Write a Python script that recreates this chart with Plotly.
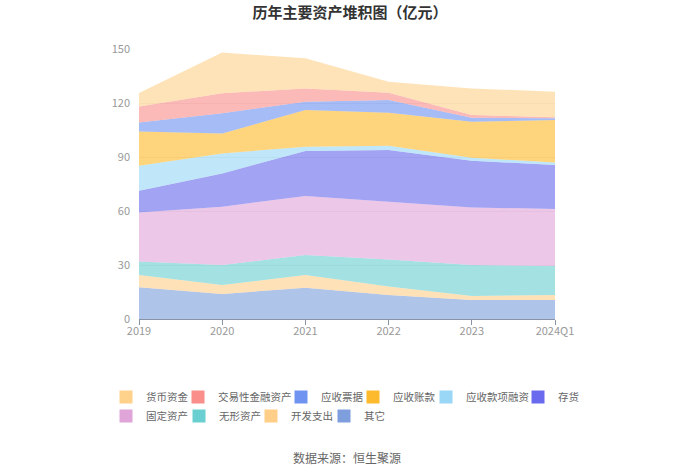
import plotly.graph_objects as go

years = ["2019", "2020", "2021", "2022", "2023", "2024Q1"]

# bottom -> top stacking order
other = [17.6, 13.9, 17.4, 13.3, 10.6, 10.6]          # 其它
dev_exp = [6.8, 5.0, 7.0, 4.7, 2.2, 2.7]              # 开发支出
intangible = [7.5, 11.1, 11.2, 15.1, 17.2, 16.1]      # 无形资产
fixed = [27.2, 32.4, 32.7, 32.1, 32.0, 31.7]          # 固定资产
inventory = [12.1, 18.5, 25.0, 28.7, 25.9, 24.5]      # 存货
recv_fin = [13.9, 11.1, 2.4, 2.4, 1.7, 1.3]           # 应收款项融资
accounts_recv = [19.1, 11.1, 20.4, 18.3, 20.0, 23.7]  # 应收账款
notes_recv = [5.0, 11.2, 4.6, 7.1, 2.2, 0.9]          # 应收票据
trading_fin = [8.9, 11.1, 7.4, 4.0, 1.5, 0.6]         # 交易性金融资产
cash = [7.4, 22.6, 16.7, 6.1, 14.8, 14.2]             # 货币资金

# name, values, colour, legend text left (px), legend row centre (px)
series = [
    ("其它", other, (126, 159, 219), 364, 416),
    ("开发支出", dev_exp, (255, 207, 138), 291, 416),
    ("无形资产", intangible, (106, 207, 208), 219, 416),
    ("固定资产", fixed, (224, 165, 216), 146, 416),
    ("存货", inventory, (106, 106, 238), 558, 397),
    ("应收款项融资", recv_fin, (154, 214, 245), 466, 397),
    ("应收账款", accounts_recv, (253, 186, 44), 393, 397),
    ("应收票据", notes_recv, (110, 147, 240), 321, 397),
    ("交易性金融资产", trading_fin, (249, 142, 138), 218, 397),
    ("货币资金", cash, (255, 210, 140), 146, 397),
]

FONT = "Noto Sans CJK SC, Noto Sans, sans-serif"
PL, PT, PW, PH = 139, 49, 416, 270
TEXT_OFFSET = 40

fig = go.Figure()
legends = {}
for i, (name, vals, rgb, tx, ty) in enumerate(series):
    r, g, b = rgb
    lg = "legend" if i == 0 else f"legend{i + 1}"
    fig.add_trace(go.Scatter(
        x=years, y=vals, name=name, mode="lines",
        stackgroup="one", line=dict(width=0, color=f"rgb({r},{g},{b})"),
        fillcolor=f"rgba({r},{g},{b},0.62)", showlegend=False,
        legendgroup=name, hoverinfo="x+y+name",
    ))
    # legend-only entry with a solid square swatch
    fig.add_trace(go.Scatter(
        x=[None], y=[None], name=name, mode="markers",
        marker=dict(symbol="square", size=13, color=f"rgb({r},{g},{b})"),
        legend=lg, legendgroup=name, showlegend=True, hoverinfo="skip",
    ))
    legends[lg] = dict(
        orientation="h", xanchor="left", yanchor="middle",
        x=(tx - TEXT_OFFSET - PL) / PW, y=(PT + PH - ty) / PH,
        font=dict(family=FONT, size=10.5, color="#666"), itemwidth=30,
        bgcolor="rgba(0,0,0,0)",
    )

fig.update_layout(
    width=700, height=473,
    margin=dict(l=PL, r=700 - PL - PW, t=PT, b=473 - PT - PH),
    paper_bgcolor="white", plot_bgcolor="white",
    title=dict(text="<b>历年主要资产堆积图（亿元）</b>", x=0.5, xanchor="center",
               y=1 - 13 / 473, yanchor="middle",
               font=dict(family=FONT, size=15, color="#333")),
    xaxis=dict(type="category", range=[0, 5], showgrid=False,
               showline=True, linecolor="#8a93a6", ticks="outside",
               tickcolor="#8a93a6", ticklen=5, ticklabelstandoff=-3,
               tickfont=dict(family=FONT, size=11, color="#999")),
    yaxis=dict(range=[0, 150], tickvals=[0, 30, 60, 90, 120, 150],
               showgrid=True, gridcolor="#ececec", zeroline=False,
               showline=False, ticks="", ticklabelstandoff=8,
               tickfont=dict(family=FONT, size=11, color="#999")),
    showlegend=True,
    annotations=[dict(text="数据来源：恒生聚源", xref="paper", yref="paper",
                      x=0.5, y=(PT + PH - 457) / PH, xanchor="center", yanchor="middle",
                      showarrow=False, font=dict(family=FONT, size=12, color="#666"))],
    **legends,
)

fig.write_html("out.html", config={"displayModeBar": False},
               post_script="document.body.style.margin='0px';")
